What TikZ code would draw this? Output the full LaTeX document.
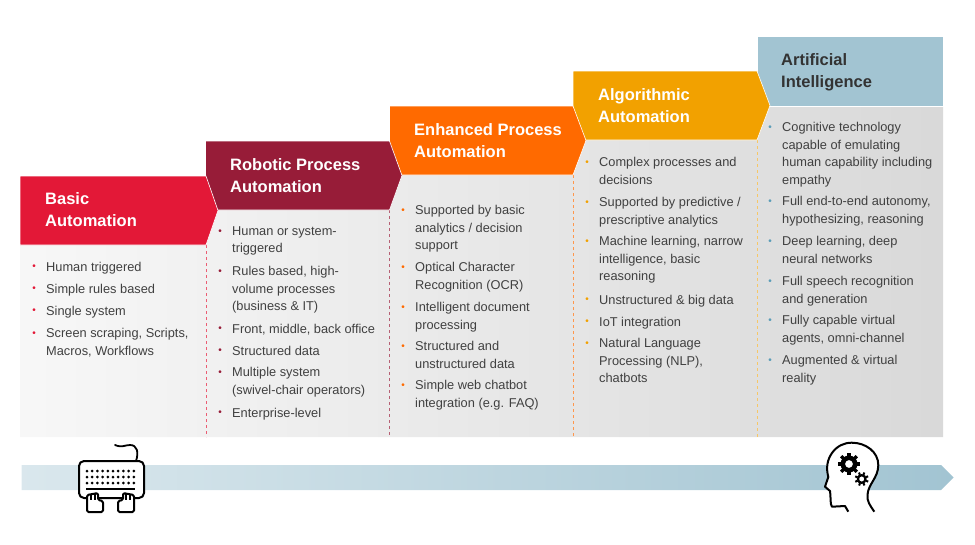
\documentclass[tikz,border=0pt]{standalone}
\usepackage{fontspec}
\setmainfont{Liberation Sans}
\definecolor{basicred}{HTML}{E31837}
\definecolor{robotred}{HTML}{971C38}
\definecolor{enhorange}{HTML}{FF6A00}
\definecolor{algoamber}{HTML}{F2A100}
\definecolor{aiblue}{HTML}{A2C4D2}
\definecolor{aidot}{HTML}{5B9DB8}
\definecolor{bodygray}{HTML}{404040}
\tikzset{
  x=1pt, y=-1pt,
  banner/.style={fill=#1, draw=white, line width=0.6pt},
  title/.style={anchor=north west, inner sep=0, align=left, yshift=7pt,
    text=white, font=\fontsize{16.5}{22}\selectfont\bfseries,
    execute at begin node={\rule{0pt}{12pt}}},
  item/.style={anchor=north west, inner sep=0, align=left, yshift=5pt,
    text=bodygray, font=\fontsize{12.8}{17.6}\selectfont,
    execute at begin node={\rule{0pt}{10pt}},
    label={[anchor=mid east, inner sep=0, xshift=-10pt, yshift=-5.5pt, text=#1,
      font=\fontsize{10}{10}\selectfont]north west:•}},
  divider/.style={draw=#1, dashed, line width=0.8pt},
  icon/.style={draw=black, line width=2pt, fill=white, line join=round},
}

\begin{document}
\begin{tikzpicture}
    \useasboundingbox (0,0) rectangle (975,544);
    % stepped panel
    \path[left color=black!3, right color=black!15]
      (20,245) -- (206,245) -- (206,210) -- (389.5,210) -- (389.5,175) -- (573,175)
      -- (573,140) -- (757,140) -- (757,106) -- (943,106) -- (943,437) -- (20,437) -- cycle;
    \draw[divider=basicred!70]  (206,245)   -- (206,437);
    \draw[divider=robotred!70]  (389.5,210) -- (389.5,437);
    \draw[divider=enhorange!70] (573,175)   -- (573,437);
    \draw[divider=algoamber!60] (757,140)   -- (757,437);
    % banners
    \draw[banner=aiblue]    (757,36)    -- (943,36)  -- (943,106) -- (757,106) -- cycle;
    \draw[banner=algoamber] (573,71)    -- (757,71)  -- (770,105.5) -- (757,140) -- (573,140) -- cycle;
    \draw[banner=enhorange] (389.5,106) -- (573,106) -- (586,140.5) -- (573,175) -- (389.5,175) -- cycle;
    \draw[banner=robotred]  (205.5,141) -- (389.5,141) -- (402,175.5) -- (389.5,210) -- (205.5,210) -- cycle;
    \draw[banner=basicred]  (20,176)    -- (206,176) -- (218,210.5) -- (206,245) -- (20,245) -- cycle;
    \node[title] (basic) at (45,199)  {Basic\\Automation};
    \node[title] (robot) at (230,165) {Robotic Process\\Automation};
    \node[title] (enh)   at (414,130) {Enhanced Process\\Automation};
    \node[title] (algo)  at (598,95)  {Algorithmic\\Automation};
    \node[title, text=black!80] (ai) at (781,60) {Artificial\\Intelligence};
    % first column
    \node[item=basicred] (b1) at (46,266) {Human triggered};
    \node[item=basicred] (b2) at (46,288) {Simple rules based};
    \node[item=basicred] (b3) at (46,310) {Single system};
    \node[item=basicred] (b4) at (46,333) {Screen scraping, Scripts,\\Macros, Workflows};
    % second column
    \node[item=robotred] (r1) at (232,231) {Human or system-\\triggered};
    \node[item=robotred] (r2) at (232,271) {Rules based, high-\\volume processes\\(business \& IT)};
    \node[item=robotred] (r3) at (232,328) {Front, middle, back office};
    \node[item=robotred] (r4) at (232,350) {Structured data};
    \node[item=robotred] (r5) at (232,372) {Multiple system\\(swivel-chair operators)};
    \node[item=robotred] (r6) at (232,412) {Enterprise-level};
    % third column
    \node[item=enhorange] (e1) at (415,210) {Supported by basic\\analytics / decision\\support};
    \node[item=enhorange] (e2) at (415,267) {Optical Character\\Recognition (OCR)};
    \node[item=enhorange] (e3) at (415,307) {Intelligent document\\processing};
    \node[item=enhorange] (e4) at (415,346) {Structured and\\unstructured data};
    \node[item=enhorange] (e5) at (415,385) {Simple web chatbot\\integration (e.g. FAQ)};
    % fourth column
    \node[item=algoamber] (a1) at (599,162) {Complex processes and\\decisions};
    \node[item=algoamber] (a2) at (599,202) {Supported by predictive /\\prescriptive analytics};
    \node[item=algoamber] (a3) at (599,241) {Machine learning, narrow\\intelligence, basic\\reasoning};
    \node[item=algoamber] (a4) at (599,299) {Unstructured \& big data};
    \node[item=algoamber] (a5) at (599,321) {IoT integration};
    \node[item=algoamber] (a6) at (599,343) {Natural Language\\Processing (NLP),\\chatbots};
    % fifth column
    \node[item=aidot] (c1) at (782,127) {Cognitive technology\\capable of emulating\\human capability including\\empathy};
    \node[item=aidot] (c2) at (782,201) {Full end-to-end autonomy,\\hypothesizing, reasoning};
    \node[item=aidot] (c3) at (782,241) {Deep learning, deep\\neural networks};
    \node[item=aidot] (c4) at (782,281) {Full speech recognition\\and generation};
    \node[item=aidot] (c5) at (782,320) {Fully capable virtual\\agents, omni-channel};
    \node[item=aidot] (c6) at (782,360) {Augmented \& virtual\\reality};
    % timeline
    \path[left color=aiblue!40, right color=aiblue]
      (21.5,465) -- (941,465) -- (953.5,477.5) -- (941,490) -- (21.5,490) -- cycle;
    % keyboard
    \draw[line width=1.8pt, line cap=round] (136,461) .. controls (139,452) and (137,445) .. (130,445)
      .. controls (125,445) and (122,448) .. (115,445);
    \draw[icon, rounded corners=5pt] (79,461) rectangle (144,498);
    \foreach \row in {471,477,483}
      \foreach \col in {0,...,9}
        \fill (87+\col*5.2,\row) circle (1.5pt);
    \draw[line width=1.6pt] (86,489) -- (135,489);
    \foreach \hx/\sg in {87/1,134/-1} {
      \draw[icon, rounded corners=1.5pt] (\hx,495) -- (\hx+\sg*11,493) -- (\hx+\sg*11,500)
        -- (\hx+\sg*16,501) -- (\hx+\sg*16,512) -- (\hx,512) -- cycle;
      \draw[line width=1.2pt] (\hx+\sg*4,494) -- (\hx+\sg*4,500) (\hx+\sg*8,494) -- (\hx+\sg*8,500);
    }
    % head with gears
    \draw[icon] (848.3,511.7) -- (845,506) -- (832,506.7) .. controls (830,504) and (831,499) .. (830,491)
      -- (825,486.7) -- (828.3,477) .. controls (826,468) and (827,460) .. (832,453)
      .. controls (837,446) and (844,442.7) .. (851.7,442.7)
      .. controls (866,442.7) and (878.3,452) .. (878.3,465)
      .. controls (878.3,478) and (868,484) .. (867.5,495)
      .. controls (867,502) and (870,505) .. (874.3,511.7);
    \fill[even odd rule] (849,464) circle (8.5pt) (849,464) circle (4pt);
    \foreach \ang in {0,45,...,315}
      \draw[line width=3.4pt] (849,464) ++(\ang:7.5) -- ++(\ang:3.5);
    \fill[even odd rule] (861.7,479) circle (5pt) (861.7,479) circle (2.6pt);
    \foreach \ang in {22,67,...,337}
      \draw[line width=2pt] (861.7,479) ++(\ang:4.5) -- ++(\ang:2.5);
\end{tikzpicture}
\end{document}
